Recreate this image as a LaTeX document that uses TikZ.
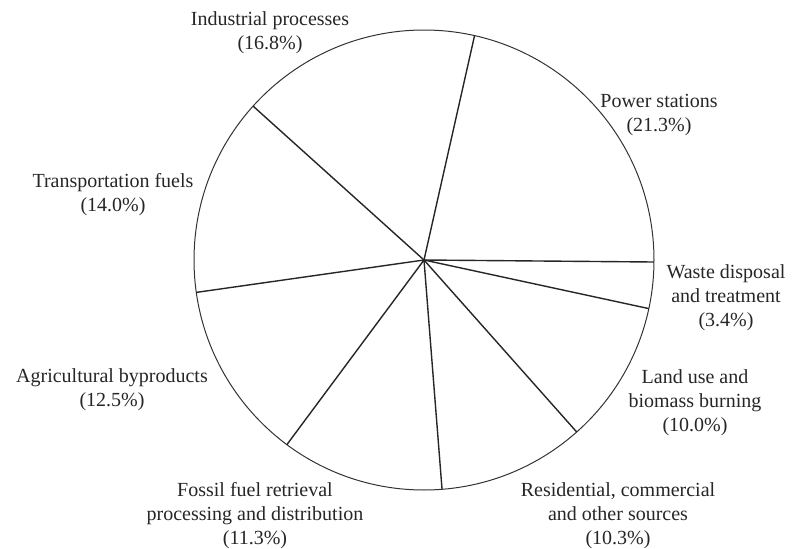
\documentclass[tikz,border=0pt]{standalone}
\usepackage{fontspec}
\setmainfont{Liberation Serif}
\begin{document}
\begin{tikzpicture}[x=1pt,y=-1pt,
  rim/.style={draw=black!80,line width=1pt},
  spoke/.style={draw=black!85,line width=1.4pt},
  lbl/.style={align=center,inner sep=0pt,text=black!85,font=\fontsize{20}{24}\selectfont}]
\useasboundingbox (0,0) rectangle (793,549);
\coordinate (O) at (424,260);
\draw[rim] (O) circle[radius=230pt];
\path (O) ++(-77.3:230) coordinate (e1);
\path (O) ++(0.5:230) coordinate (e2);
\path (O) ++(12.2:230) coordinate (e3);
\path (O) ++(48.4:230) coordinate (e4);
\path (O) ++(85.5:230) coordinate (e5);
\path (O) ++(126.6:230) coordinate (e6);
\path (O) ++(171.9:230) coordinate (e7);
\path (O) ++(-138.0:230) coordinate (e8);
\foreach \e in {e1,e2,e3,e4,e5,e6,e7,e8} \draw[spoke] (O) -- (\e);
\node[lbl] (ind) at (270,33) {Industrial processes\\(16.8\%)};
\node[lbl] (pow) at (659,115) {Power stations\\(21.3\%)};
\node[lbl] (tra) at (113,195) {Transportation fuels\\(14.0\%)};
\node[lbl] (was) at (726,298) {Waste disposal\\and treatment\\(3.4\%)};
\node[lbl] (lan) at (695,403) {Land use and\\biomass burning\\(10.0\%)};
\node[lbl] (agr) at (112,390) {Agricultural byproducts\\(12.5\%)};
\node[lbl] (fos) at (255,516) {Fossil fuel retrieval\\processing and distribution\\(11.3\%)};
\node[lbl] (res) at (618,516) {Residential, commercial\\and other sources\\(10.3\%)};
\end{tikzpicture}
\end{document}
